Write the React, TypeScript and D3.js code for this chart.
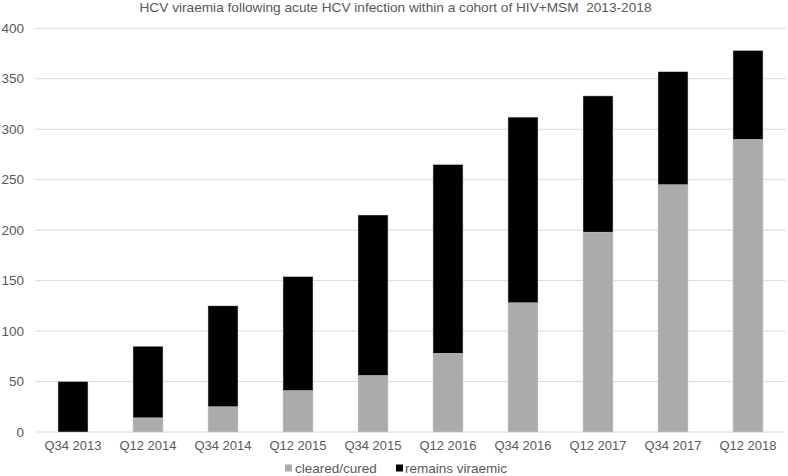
import * as React from "react";
import { scaleBand, scaleLinear, stack } from "d3";

const categories = [
  "Q34 2013",
  "Q12 2014",
  "Q34 2014",
  "Q12 2015",
  "Q34 2015",
  "Q12 2016",
  "Q34 2016",
  "Q12 2017",
  "Q34 2017",
  "Q12 2018",
];
const clearedCured = [0, 14, 25, 41, 56, 78, 128, 198, 245, 290];
const remainsViraemic = [50, 71, 100, 113, 159, 187, 184, 135, 112, 88];
const yTicks = [0, 50, 100, 150, 200, 250, 300, 350, 400];
const seriesNames = ["cleared/cured", "remains viraemic"];
const seriesColors = ["#ababab", "#000000"];

const W = 788;
const H = 476;
const margin = { top: 28.3, right: 2.5, bottom: 44, left: 35.5 };
const textColor = "#595959";
const font = "'Liberation Sans', Arial, sans-serif";

export default function App() {
  const innerW = W - margin.left - margin.right;
  const innerH = H - margin.top - margin.bottom;

  const x = scaleBand<string>()
    .domain(categories)
    .range([0, innerW])
    .paddingInner(0.6)
    .paddingOuter(0.3);
  const y = scaleLinear().domain([0, 400]).range([innerH, 0]);

  const rows = categories.map((c, i) => ({
    cat: c,
    cleared: clearedCured[i],
    remains: remainsViraemic[i],
  }));
  const layers = stack<any>().keys(["cleared", "remains"])(rows);

  return (
    <svg
      width={W}
      height={H}
      style={{ position: "absolute", left: 0, top: 0, background: "#fff" }}
      fontFamily={font}
    >
      <text
        x={395.5}
        y={12}
        textAnchor="middle"
        fontSize={13}
        fill={textColor}
        textLength={512}
        lengthAdjust="spacingAndGlyphs"
        style={{ whiteSpace: "pre" }}
      >
        HCV viraemia following acute HCV infection within a cohort of HIV+MSM  2013-2018
      </text>
      <g transform={`translate(${margin.left},${margin.top})`}>
        {yTicks.map((t) => (
          <g key={t}>
            <line
              x1={0}
              x2={innerW}
              y1={y(t)}
              y2={y(t)}
              stroke="#d9d9d9"
              strokeWidth={1}
            />
            <text
              x={-11.5}
              y={y(t)}
              dy="0.35em"
              textAnchor="end"
              fontSize={13.5}
              fill={textColor}
            >
              {t}
            </text>
          </g>
        ))}
        {layers.map((layer, li) => (
          <g key={layer.key} fill={seriesColors[li]}>
            {layer.map((d: any) =>
              d[1] - d[0] > 0 ? (
                <rect
                  key={d.data.cat}
                  x={x(d.data.cat)}
                  y={y(d[1])}
                  width={x.bandwidth()}
                  height={y(d[0]) - y(d[1])}
                  stroke="#d0d0d0"
                  strokeWidth={0.5}
                />
              ) : null
            )}
          </g>
        ))}
        {categories.map((c) => (
          <text
            key={c}
            x={(x(c) as number) + x.bandwidth() / 2}
            y={innerH + 18}
            textAnchor="middle"
            fontSize={13}
            fill={textColor}
          >
            {c}
          </text>
        ))}
      </g>
      <g transform="translate(0,468)" fontSize={13.5} fill={textColor}>
        <rect x={285} y={-3.5} width={7} height={7} fill={seriesColors[0]} />
        <text x={295} dy="0.35em">
          {seriesNames[0]}
        </text>
        <rect x={396} y={-3.5} width={7} height={7} fill={seriesColors[1]} />
        <text x={405} dy="0.35em">
          {seriesNames[1]}
        </text>
      </g>
    </svg>
  );
}
